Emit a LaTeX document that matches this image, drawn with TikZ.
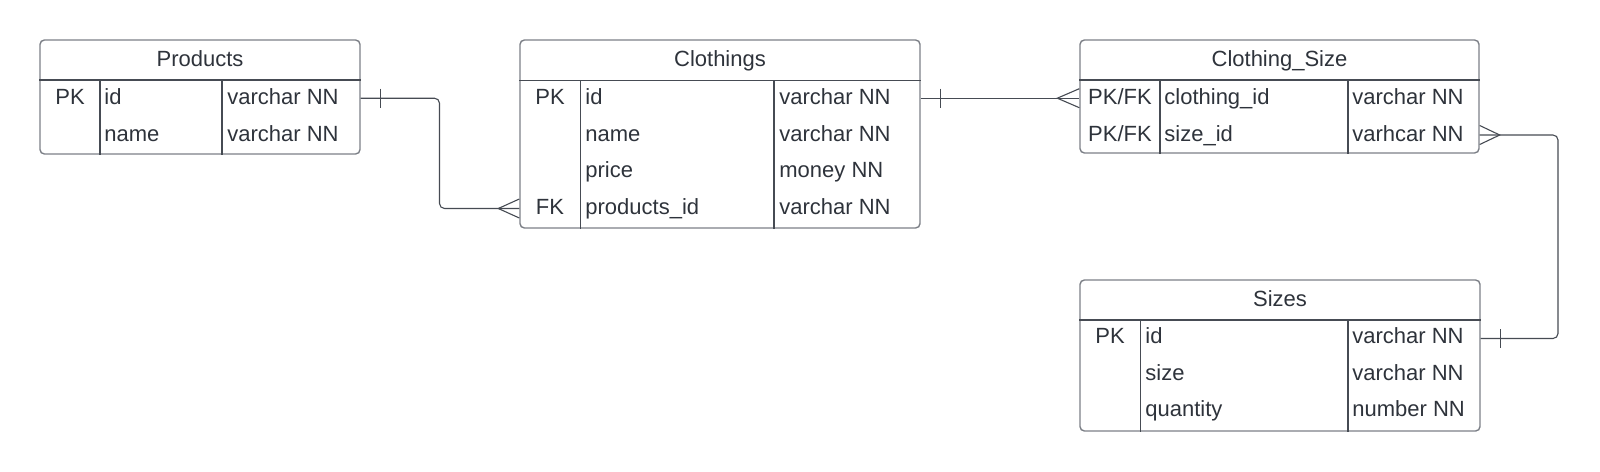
\documentclass[tikz,border=0pt]{standalone}
\usepackage{fontspec}
\setmainfont{Liberation Sans}
\usetikzlibrary{fit,calc}
\definecolor{boxgray}{HTML}{7C8087}
\definecolor{linegray}{HTML}{464B53}
\definecolor{txt}{HTML}{2E333B}
\begin{document}
\begin{tikzpicture}[x=0.5pt,y=-0.5pt,
  tbl/.style={draw=boxgray, line width=0.7pt, rounded corners=2.2pt, inner sep=0pt},
  sep/.style={draw=linegray, line width=0.55pt},
  cell/.style={text=txt, font=\fontsize{11}{13}\selectfont, inner sep=0pt, text height=7.9pt, text depth=0pt},
  lcell/.style={cell, anchor=west},
  conn/.style={draw=linegray, line width=0.55pt},
  ]
\useasboundingbox (0,0) rectangle (1600,471);

% ---------- Products ----------
\node[tbl, fit={(40,40) (360,154)}] (prod) {};
\draw[sep] (prod.west |- 0,80) -- (prod.east |- 0,80);
\draw[sep] (100,80) -- (100,0 |- prod.south);
\draw[sep] (222,80) -- (222,0 |- prod.south);
\node[cell] (prod-title) at (200,59) {Products};
\node[cell] (prod-pk) at (70,97) {PK};
\node[lcell] (prod-id) at (104,97) {id};
\node[lcell] (prod-idt) at (227,97) {varchar NN};
\node[lcell] (prod-name) at (104,133.5) {name};
\node[lcell] (prod-namet) at (227,133.5) {varchar NN};

% ---------- Clothings ----------
\node[tbl, fit={(520,40) (920,228)}] (cl) {};
\draw[sep] (cl.west |- 0,80.5) -- (cl.east |- 0,80.5);
\draw[sep] (580.5,80.5) -- (580.5,0 |- cl.south);
\draw[sep] (774,80.5) -- (774,0 |- cl.south);
\node[cell] (cl-title) at (720,59) {Clothings};
\node[cell] (cl-pk) at (550,97) {PK};
\node[lcell] (cl-id) at (585,97) {id};
\node[lcell] (cl-idt) at (779,97) {varchar NN};
\node[lcell] (cl-name) at (585,133.5) {name};
\node[lcell] (cl-namet) at (779,133.5) {varchar NN};
\node[lcell] (cl-price) at (585,170) {price};
\node[lcell] (cl-pricet) at (779,170) {money NN};
\node[cell] (cl-fk) at (550,206.5) {FK};
\node[lcell] (cl-pid) at (585,206.5) {products\_id};
\node[lcell] (cl-pidt) at (779,206.5) {varchar NN};

% ---------- Clothing_Size ----------
\node[tbl, fit={(1080,40) (1479,153)}] (cs) {};
\draw[sep] (cs.west |- 0,80) -- (cs.east |- 0,80);
\draw[sep] (1160,80) -- (1160,0 |- cs.south);
\draw[sep] (1348,80) -- (1348,0 |- cs.south);
\node[cell] (cs-title) at (1279.5,59) {Clothing\_Size};
\node[cell] (cs-k1) at (1120,97) {PK/FK};
\node[lcell] (cs-cid) at (1164,97) {clothing\_id};
\node[lcell] (cs-cidt) at (1352,97) {varchar NN};
\node[cell] (cs-k2) at (1120,133.5) {PK/FK};
\node[lcell] (cs-sid) at (1164,133.5) {size\_id};
\node[lcell] (cs-sidt) at (1352,133.5) {varhcar NN};

% ---------- Sizes ----------
\node[tbl, fit={(1080,280) (1480,431)}] (sz) {};
\draw[sep] (sz.west |- 0,320) -- (sz.east |- 0,320);
\draw[sep] (1140.5,320) -- (1140.5,0 |- sz.south);
\draw[sep] (1348,320) -- (1348,0 |- sz.south);
\node[cell] (sz-title) at (1280,298.5) {Sizes};
\node[cell] (sz-pk) at (1110,336) {PK};
\node[lcell] (sz-id) at (1145,336) {id};
\node[lcell] (sz-idt) at (1352,336) {varchar NN};
\node[lcell] (sz-size) at (1145,372.5) {size};
\node[lcell] (sz-sizet) at (1352,372.5) {varchar NN};
\node[lcell] (sz-qty) at (1145,409) {quantity};
\node[lcell] (sz-qtyt) at (1352,409) {number NN};

% ---------- connector endpoints ----------
\coordinate (a1) at (prod.east |- prod-id);
\coordinate (a2) at (cl.west |- cl-fk);
\coordinate (k1) at (439.5,0);
\coordinate (b1) at (cl.east |- cl-id);
\coordinate (b2) at (cs.west |- cs-cid);
\coordinate (c1) at (cs.east |- cs-sid);
\coordinate (c2) at (sz.east |- sz-id);
\coordinate (k2) at (1558,0);

% Products -> Clothings
\draw[conn, rounded corners=2.5pt] ($(a1)+(0,1.2)$) -- ($(k1 |- a1)+(0,1.2)$) -- ($(k1 |- a2)+(0,2)$) -- ($(a2)+(0,2)$);
\draw[conn] ($(a1)+(20,-8.3)$) -- ++(0,19);
\draw[conn] ($(a2)+(0,-7.5)$) -- ($(a2)+(-21,2)$) -- ($(a2)+(0,11.5)$);

% Clothings -> Clothing_Size
\draw[conn] ($(b1)+(0,1.2)$) -- ($(b2)+(0,1.2)$);
\draw[conn] ($(b1)+(20,-8.3)$) -- ++(0,19);
\draw[conn] ($(b2)+(0,-8.3)$) -- ($(b2)+(-22,1.2)$) -- ($(b2)+(0,10.7)$);

% Clothing_Size -> Sizes
\draw[conn, rounded corners=2.5pt] ($(c1)+(0,1.5)$) -- ($(k2 |- c1)+(0,1.5)$) -- ($(k2 |- c2)+(0,2.5)$) -- ($(c2)+(0,2.5)$);
\draw[conn] ($(c1)+(0,-8)$) -- ($(c1)+(20,1.5)$) -- ($(c1)+(0,11)$);
\draw[conn] ($(c2)+(20,-7)$) -- ++(0,19);
\end{tikzpicture}
\end{document}
